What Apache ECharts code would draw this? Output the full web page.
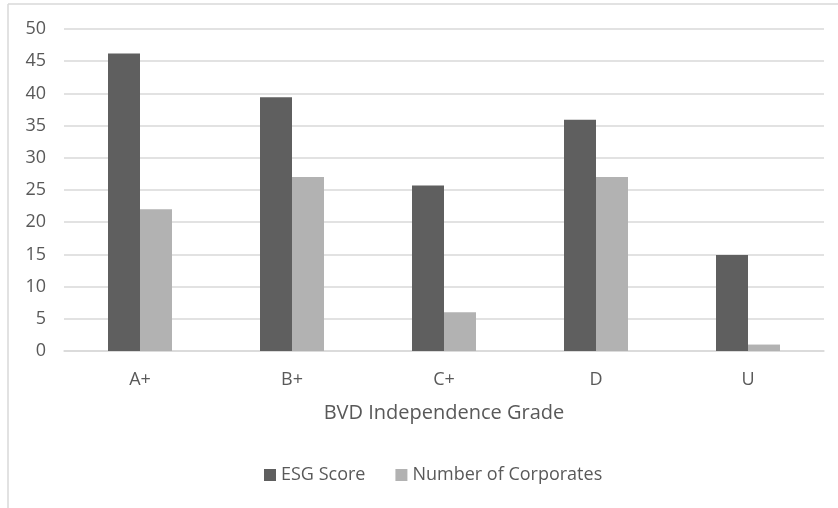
<!DOCTYPE html>
<html>
<head>
<meta charset="utf-8">
<script src="https://cdn.jsdelivr.net/npm/echarts@6/dist/echarts.min.js"></script>
<style>
  html, body { margin:0; padding:0; background:#fff; }
  #chart { width:838px; height:508px; }
</style>
</head>
<body>
<div id="chart"></div>
<script type="text/javascript">
var grades = ['A+', 'B+', 'C+', 'D', 'U'];
var esgScore = [46.2, 39.4, 25.7, 35.9, 14.9];
var corporates = [22, 27, 6, 27, 1];
var yTicks = [0, 50, 5]; // min, max, step

var dom = document.getElementById('chart');
var myChart = echarts.init(dom);
var font = '"Open Sans", "Noto Sans", sans-serif';

var option = {
  backgroundColor: '#fff',
  textStyle: { fontFamily: font },
  animation: false,
  // frame of the chart area (only top and left edges show)
  graphic: [
    { type: 'line', shape: { x1: 8, y1: 4, x2: 838, y2: 4 }, style: { stroke: '#d9d9d9', lineWidth: 1.5 } },
    { type: 'line', shape: { x1: 8, y1: 4, x2: 8, y2: 508 }, style: { stroke: '#d9d9d9', lineWidth: 1.5 } }
  ],
  grid: {
    left: 64,
    right: 14,
    top: 29,
    bottom: 157
  },
  legend: {
    bottom: 19,
    left: 259,
    itemWidth: 12,
    itemHeight: 12,
    itemGap: 30,
    icon: 'rect',
    textStyle: { color: '#595959', fontSize: 18, fontFamily: font },
    data: ['ESG Score', 'Number of Corporates']
  },
  xAxis: {
    type: 'category',
    data: grades,
    name: 'BVD Independence Grade',
    nameLocation: 'middle',
    nameGap: 52,
    nameTextStyle: { color: '#595959', fontSize: 20, fontFamily: font },
    axisLine: { lineStyle: { color: '#d9d9d9', width: 1.5 } },
    axisTick: { show: false },
    axisLabel: { color: '#595959', fontSize: 18, margin: 20, fontFamily: font }
  },
  yAxis: {
    type: 'value',
    min: yTicks[0],
    max: yTicks[1],
    interval: yTicks[2],
    axisLine: { show: false },
    axisTick: { show: false },
    axisLabel: { color: '#595959', fontSize: 18, margin: 18, fontFamily: font },
    splitLine: { lineStyle: { color: '#d9d9d9', width: 1.5 } }
  },
  series: [
    {
      name: 'ESG Score',
      type: 'bar',
      data: esgScore,
      barWidth: 32,
      barGap: '0%',
      itemStyle: { color: '#5f5f5f' }
    },
    {
      name: 'Number of Corporates',
      type: 'bar',
      data: corporates,
      barWidth: 32,
      itemStyle: { color: '#b2b2b2' }
    }
  ]
};

if (option && typeof option === 'object') {
  myChart.setOption(option, true);
}
</script>
</body>
</html>
